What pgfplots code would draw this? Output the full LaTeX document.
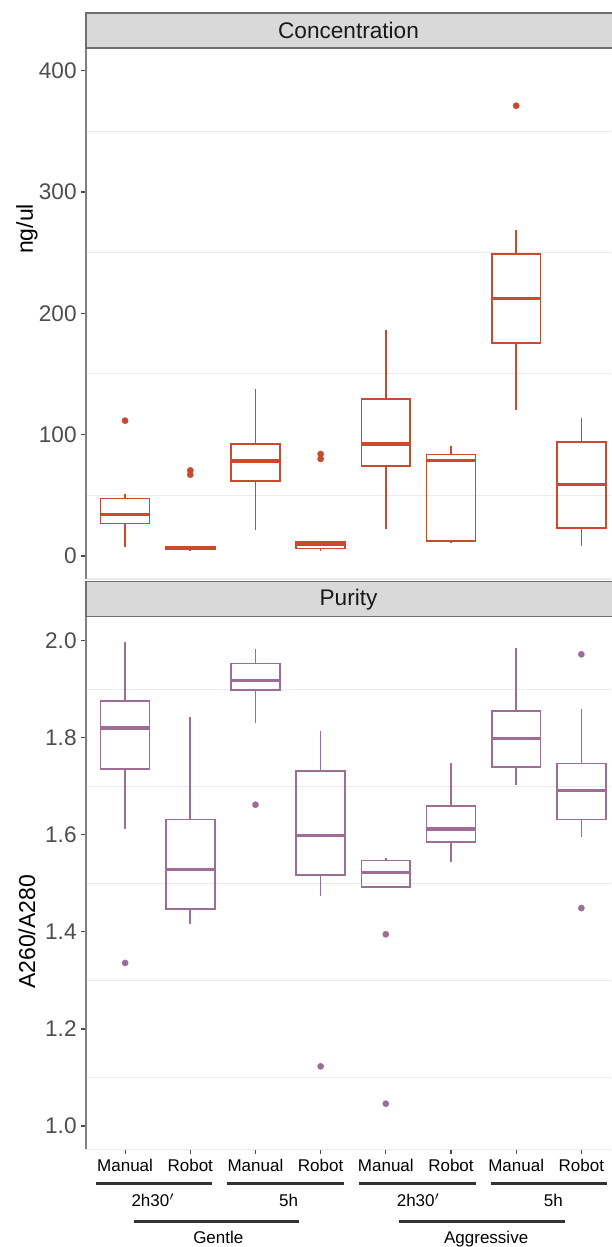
\documentclass[border=0pt]{standalone}
\usepackage{fontspec}
\setmainfont{Liberation Sans}
\usepackage{pgfplots}
\pgfplotsset{compat=1.18}
\usepgfplotslibrary{statistics}

\definecolor{conc}{RGB}{201,74,44}
\definecolor{pur}{RGB}{158,108,148}
\definecolor{tickgray}{RGB}{77,77,77}
\definecolor{gridgray}{RGB}{235,235,235}
\definecolor{stripfill}{RGB}{217,217,217}
\definecolor{stripline}{RGB}{110,110,110}

\pgfplotsset{
  panel/.style={
    scale only axis, width=262.5pt,
    xmin=0.4, xmax=8.455,
    axis x line*=bottom, axis y line*=left,
    x axis line style={draw=gridgray, line width=0.6pt, -},
    y axis line style={draw=gray, line width=0.8pt, -},
    tick align=outside, major tick length=2.5pt, minor tick length=0pt,
    tick style={draw=tickgray, line width=0.6pt},
    yminorgrids, ymajorgrids=false,
    minor grid style={draw=gridgray, line width=0.5pt},
    yticklabel style={font=\fontsize{11.3}{13}\selectfont, text=tickgray, inner sep=2pt},
    /pgf/number format/assume math mode=true,
    clip=false,
  },
  bx/.style={draw=#1, line width=0.8pt, solid, mark=*, mark size=1.6pt,
    mark options={fill=#1, draw=#1, line width=0.1pt},
    boxplot/draw direction=y,
    boxplot/box extend=0.75, boxplot/whisker extend=0,
    boxplot/every median/.style={line width=1.6pt}},
}

\begin{document}
\begin{tikzpicture}

% ---------- Concentration ----------
\begin{axis}[panel, at={(43pt,334pt)}, anchor=south west,
    height=265.5pt, ymin=-18.95, ymax=418.6,
    ytick={0,100,200,300,400}, minor ytick={50,150,250,350},
    xtick=\empty]
  \addplot[bx=conc, boxplot prepared={draw position=1, lower whisker=7.7, lower quartile=26.9, median=34, upper quartile=47.5, upper whisker=50.8}] coordinates {(0,111.5)};
  \addplot[bx=conc, boxplot prepared={draw position=2, lower whisker=5, lower quartile=5.3, median=6.5, upper quartile=7.8, upper whisker=8}] coordinates {(0,70.5) (0,67)};
  \addplot[bx=conc, boxplot prepared={draw position=3, lower whisker=21.4, lower quartile=61.8, median=78.3, upper quartile=92.3, upper whisker=137.6}] coordinates {};
  \addplot[bx=conc, boxplot prepared={draw position=4, lower whisker=4.4, lower quartile=6.3, median=9.3, upper quartile=11.3, upper whisker=12}] coordinates {(0,84) (0,80)};
  \addplot[bx=conc, boxplot prepared={draw position=5, lower whisker=22.2, lower quartile=74.4, median=92.3, upper quartile=129.4, upper whisker=186}] coordinates {};
  \addplot[bx=conc, boxplot prepared={draw position=6, lower whisker=10.4, lower quartile=12.6, median=78.5, upper quartile=83.5, upper whisker=91}] coordinates {};
  \addplot[bx=conc, boxplot prepared={draw position=7, lower whisker=120.4, lower quartile=175.3, median=212.4, upper quartile=249, upper whisker=268.7}] coordinates {(0,371)};
  \addplot[bx=conc, boxplot prepared={draw position=8, lower whisker=8.5, lower quartile=23.3, median=58.8, upper quartile=93.9, upper whisker=113.7}] coordinates {};
\end{axis}

% ---------- Purity ----------
\begin{axis}[panel, at={(43pt,48.85pt)}, anchor=south west,
    height=266.3pt, ymin=0.952, ymax=2.0495,
    ytick={1.0,1.2,1.4,1.6,1.8,2.0}, minor ytick={1.1,1.3,1.5,1.7,1.9},
    yticklabel style={/pgf/number format/fixed, /pgf/number format/fixed zerofill, /pgf/number format/precision=1},
    xtick={1,...,8},
    xticklabels={Manual,Robot,Manual,Robot,Manual,Robot,Manual,Robot},
    xticklabel style={font=\fontsize{8.5}{10}\selectfont, text=black, anchor=base, yshift=-8.35pt}]
  \addplot[bx=pur, boxplot prepared={draw position=1, lower whisker=1.612, lower quartile=1.736, median=1.820, upper quartile=1.876, upper whisker=1.998}] coordinates {(0,1.336)};
  \addplot[bx=pur, boxplot prepared={draw position=2, lower whisker=1.416, lower quartile=1.447, median=1.528, upper quartile=1.632, upper whisker=1.842}] coordinates {};
  \addplot[bx=pur, boxplot prepared={draw position=3, lower whisker=1.831, lower quartile=1.898, median=1.918, upper quartile=1.953, upper whisker=1.982}] coordinates {(0,1.662)};
  \addplot[bx=pur, boxplot prepared={draw position=4, lower whisker=1.473, lower quartile=1.517, median=1.598, upper quartile=1.732, upper whisker=1.814}] coordinates {(0,1.123)};
  \addplot[bx=pur, boxplot prepared={draw position=5, lower whisker=1.490, lower quartile=1.493, median=1.522, upper quartile=1.547, upper whisker=1.553}] coordinates {(0,1.395) (0,1.046)};
  \addplot[bx=pur, boxplot prepared={draw position=6, lower whisker=1.545, lower quartile=1.585, median=1.612, upper quartile=1.660, upper whisker=1.749}] coordinates {};
  \addplot[bx=pur, boxplot prepared={draw position=7, lower whisker=1.703, lower quartile=1.740, median=1.798, upper quartile=1.855, upper whisker=1.986}] coordinates {};
  \addplot[bx=pur, boxplot prepared={draw position=8, lower whisker=1.596, lower quartile=1.632, median=1.691, upper quartile=1.747, upper whisker=1.859}] coordinates {(0,1.972) (0,1.449)};

  % group annotations under the x axis
  \begin{scope}[line width=1.5pt, draw=black!80]
    \draw (axis cs:0.56,0.8825) -- (axis cs:2.34,0.8825);
    \draw (axis cs:2.57,0.8825) -- (axis cs:4.36,0.8825);
    \draw (axis cs:4.59,0.8825) -- (axis cs:6.38,0.8825);
    \draw (axis cs:6.62,0.8825) -- (axis cs:8.39,0.8825);
    \draw (axis cs:1.13,0.8041) -- (axis cs:3.67,0.8041);
    \draw (axis cs:5.20,0.8041) -- (axis cs:7.75,0.8041);
  \end{scope}
  \begin{scope}[every node/.style={font=\fontsize{8.5}{10}\selectfont, anchor=base, inner sep=0pt}]
    \node at (axis cs:1.43,0.8346) {2h30$'$};
    \node at (axis cs:3.51,0.8346) {5h};
    \node at (axis cs:5.50,0.8346) {2h30$'$};
    \node at (axis cs:7.57,0.8346) {5h};
    \node at (axis cs:2.43,0.758) {Gentle};
    \node at (axis cs:6.54,0.758) {Aggressive};
  \end{scope}
\end{axis}

% facet strips
\draw[fill=stripfill, draw=stripline, line width=0.7pt] (43pt,599.5pt) rectangle (307pt,617pt);
\node[font=\fontsize{11.3}{13}\selectfont, text=black!90] at (174.25pt,608.25pt) {Concentration};
\draw[fill=stripfill, draw=stripline, line width=0.7pt] (43pt,315.15pt) rectangle (307pt,332.65pt);
\node[font=\fontsize{11.3}{13}\selectfont, text=black!90] at (174.25pt,323.9pt) {Purity};

% y axis titles
\node[rotate=90, font=\fontsize{11.5}{13}\selectfont] at (13.5pt,509pt) {ng/ul};
\node[rotate=90, font=\fontsize{11.5}{13}\selectfont] at (13.5pt,157.5pt) {A260/A280};

\pgfresetboundingbox
\path (0,0) rectangle (305.5pt,623.5pt);
\end{tikzpicture}
\end{document}
